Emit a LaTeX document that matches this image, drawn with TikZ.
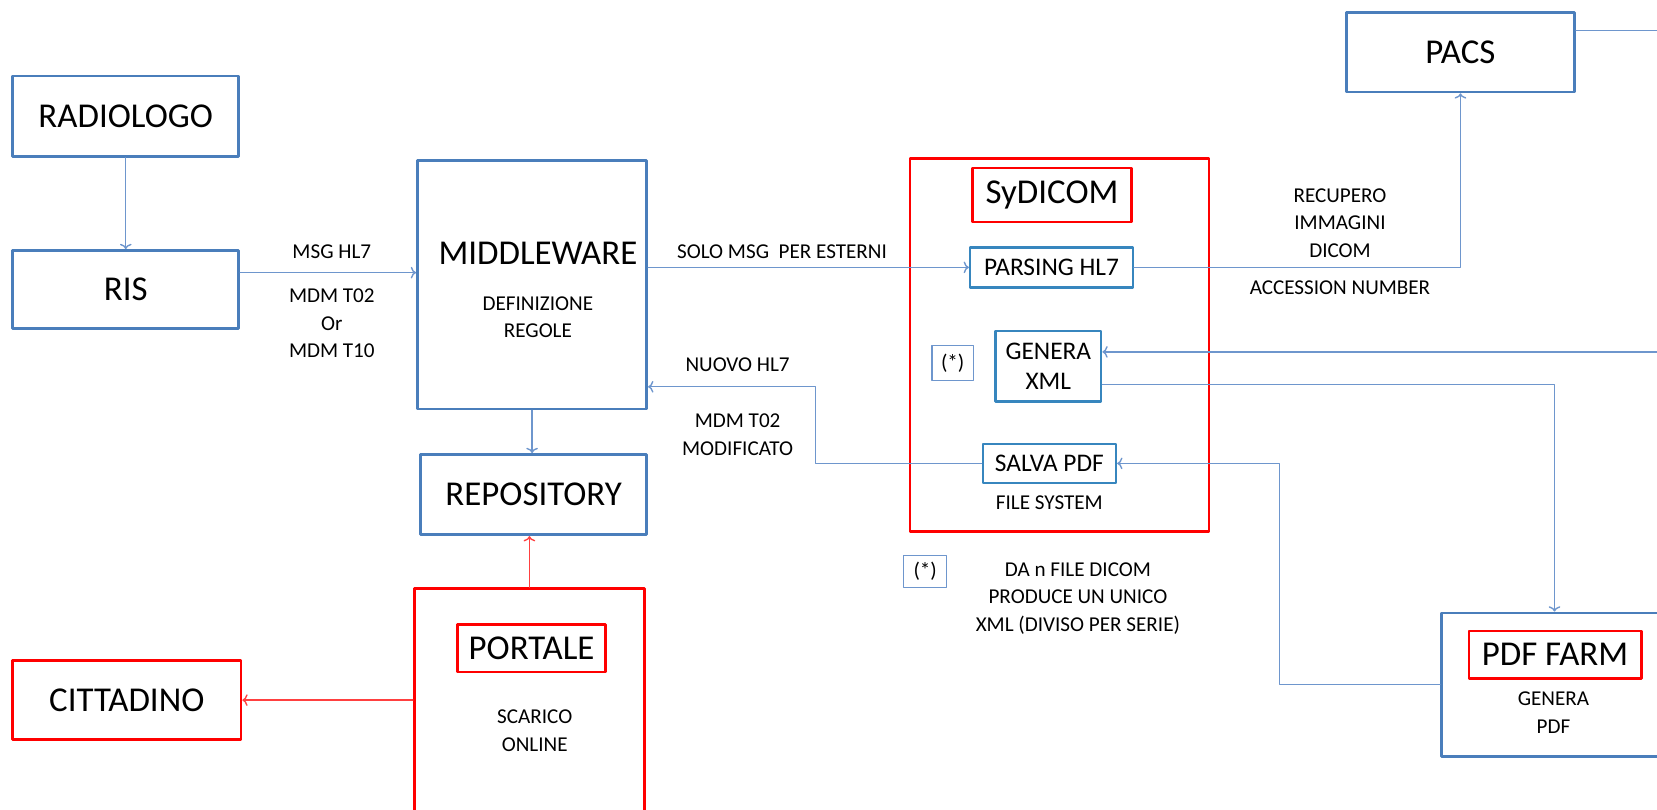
\documentclass[tikz,border=0pt]{standalone}
\usepackage{fontspec}
\setmainfont{Carlito}
\usetikzlibrary{arrows.meta}
\definecolor{boxblue}{RGB}{74,126,187}
\definecolor{subblue}{RGB}{55,134,190}
\definecolor{lineblue}{RGB}{110,150,205}
\definecolor{redline}{RGB}{255,0,0}
\newcommand\titlefont{\fontsize{33}{38}\selectfont}
\newcommand\midfont{\fontsize{24}{29}\selectfont}
\newcommand\labelfont{\fontsize{20}{26}\selectfont}

\begin{document}
\begin{tikzpicture}[x=1pt,y=-1pt,line cap=round,line join=round,
    bluebox/.style={draw=boxblue,line width=2.6pt,inner sep=0pt,font=\titlefont},
    redbox/.style={draw=redline,line width=2.6pt,inner sep=0pt,font=\titlefont},
    subbox/.style={draw=subblue,line width=2.3pt,inner sep=0pt,font=\midfont},
    notebox/.style={draw=lineblue,line width=1.1pt,inner sep=0pt,font=\labelfont},
    lbl/.style={inner sep=0pt,font=\labelfont,align=center},
    conn/.style={draw=lineblue,line width=1.3pt,-{To[length=5pt,width=11pt]}},
    redconn/.style={draw=redline!75,line width=1.3pt,-{To[length=5pt,width=11pt]}}]
        \clip (0,0) rectangle (1568,766);
        \fill[white] (0,0) rectangle (1568,766);

        \node[bluebox,minimum width=214pt,minimum height=76pt] (rad) at (119,110) {RADIOLOGO};
        \node[bluebox,minimum width=214pt,minimum height=74pt] (ris) at (119,274) {RIS};
        \node[bluebox,minimum width=217pt,minimum height=235pt] (mw) at (503.5,269.5) {};
        \node[inner sep=0pt,font=\titlefont] (mwtitle) at (509,240) {MIDDLEWARE};
        \node[lbl] (mwrules) at (509,300) {DEFINIZIONE\\REGOLE};
        \node[bluebox,minimum width=214pt,minimum height=76pt] (repo) at (505,468) {REPOSITORY};
        \node[redbox,minimum width=218pt,minimum height=233pt] (portale) at (501,673.5) {};
        \node[redbox,minimum width=140pt,minimum height=45pt] (portname) at (503,613.5) {PORTALE};
        \node[lbl] (scarico) at (506,691.5) {SCARICO\\ONLINE};
        \node[redbox,minimum width=216pt,minimum height=75pt] (citt) at (120,662.5) {CITTADINO};

        \node[redbox,minimum width=283pt,minimum height=353pt] (sydicom) at (1002.5,326.5) {};
        \node[redbox,minimum width=151pt,minimum height=51pt] (syname) at (995.5,184.5) {SyDICOM};
        \node[subbox,minimum width=154pt,minimum height=38pt] (parsing) at (995,253) {PARSING HL7};
        \node[subbox,minimum width=100pt,minimum height=67pt,align=center] (genera) at (992,346.5) {GENERA\\XML};
        \node[notebox,minimum width=39pt,minimum height=33pt] (star) at (901.5,343.5) {(*)};
        \node[subbox,minimum width=126pt,minimum height=37pt] (salva) at (993,438.5) {SALVA PDF};
        \node[lbl] (filesys) at (993,476) {FILE SYSTEM};

        \node[notebox,minimum width=41pt,minimum height=30pt] (starnote) at (875.5,541) {(*)};
        \node[lbl] (note) at (1020,566) {DA n FILE DICOM\\PRODUCE UN UNICO\\XML (DIVISO PER SERIE)};

        \node[bluebox,minimum width=216pt,minimum height=75pt] (pacs) at (1382,49.5) {PACS};
        \node[bluebox,minimum width=214pt,minimum height=136pt] (pdf) at (1471,648) {};
        \node[redbox,minimum width=163pt,minimum height=45pt] (pdfname) at (1471.5,619.5) {PDF FARM};
        \node[lbl] (genpdf) at (1470,674.5) {GENERA\\PDF};

        \coordinate (pacsout) at (1575,29);
        \coordinate (xmlin) at (1575,333);

        \draw[conn] (rad) -- (ris);
        \draw[conn] ([yshift=16pt]ris.east) -- ([yshift=16pt]ris.east -| mw.west);
        \draw[conn] (mw.south) -- (mw.south |- repo.north);
        \draw[redconn] (portale.north) -- (portale.north |- repo.south);
        \draw[redconn] (citt.east -| portale.west) -- (citt.east);
        \draw[conn] (parsing.west -| mw.east) -- (parsing.west);
        \draw[conn] (parsing.east) -| (pacs.south);
        \draw[draw=lineblue,line width=1.3pt] (pacsout -| pacs.east) -- (pacsout);
        \draw[conn] (xmlin) -- (xmlin -| genera.east);
        \draw[conn] ([yshift=-17.5pt]genera.east) -| (pdf.north);
        \draw[conn] (pdf.west) -- ++(-152,0) |- (salva.east);
        \draw[conn] (salva.west) -- ++(-157,0) |- ([yshift=-96.5pt]mw.east);

        \node[lbl] (msghl7) at (314,238) {MSG HL7};
        \node[lbl] (mdm) at (314,306) {MDM T02\\Or\\MDM T10};
        \node[lbl] (solo) at (740,238) {SOLO MSG\ \ PER ESTERNI};
        \node[lbl] (nuovo) at (698,345) {NUOVO HL7};
        \node[lbl] (mdmmod) at (698,411.5) {MDM T02\\MODIFICATO};
        \node[lbl] (recupero) at (1268,211) {RECUPERO\\IMMAGINI\\DICOM};
        \node[lbl] (accession) at (1268,272) {ACCESSION NUMBER};
\end{tikzpicture}
\end{document}
